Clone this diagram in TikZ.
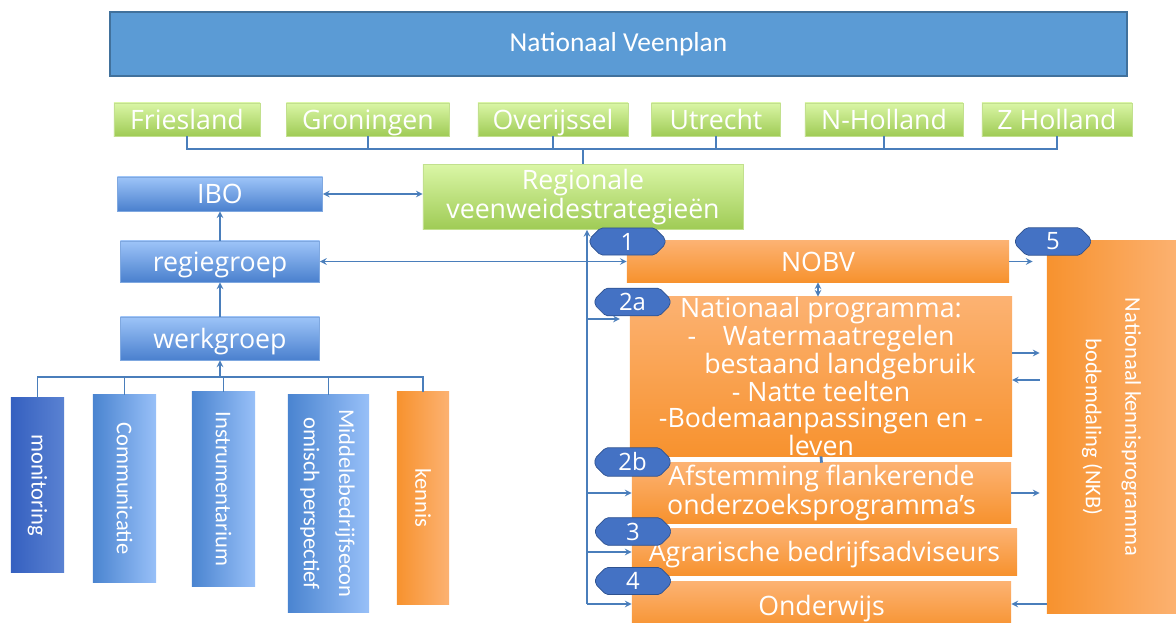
\documentclass[tikz,border=0pt]{standalone}
\usepackage{fontspec}
\setmainfont{Open Sans}
\newfontfamily\narrowfont{Carlito}
\usepackage{graphicx}
\usetikzlibrary{shapes.misc}

\definecolor{titleblue}{HTML}{5B9BD5}
\definecolor{titleedge}{HTML}{41719C}
\definecolor{greentop}{HTML}{DAF6A6}
\definecolor{greenbot}{HTML}{9FCB55}
\definecolor{greenedge}{HTML}{C2E08E}
\definecolor{bluetop}{HTML}{9DC4F8}
\definecolor{bluebot}{HTML}{4A80CE}
\definecolor{blueedge}{HTML}{7FA8E0}
\definecolor{orangelight}{HTML}{FCB272}
\definecolor{orangedark}{HTML}{F7922E}
\definecolor{linkblue}{HTML}{4A7EBB}
\definecolor{badgeblue}{HTML}{4472C4}
\definecolor{badgeedge}{HTML}{2F528F}
\definecolor{monleft}{HTML}{3560C0}
\definecolor{monright}{HTML}{5A82D2}
\definecolor{sideleft}{HTML}{4A84D0}
\definecolor{sideright}{HTML}{98C0F8}

\begin{document}
\begin{tikzpicture}[x=0.025cm, y=-0.025cm, >=stealth,
  boxtext/.style={text=white, font=\fontsize{19}{18.6}\selectfont, inner sep=0pt, align=center},
  oneline/.style={text height=13.8pt, text depth=0pt},
  province/.style={boxtext, top color=greentop, bottom color=greenbot, draw=greenedge, line width=0.5pt, minimum height=0.83cm},
  bluebox/.style={boxtext, oneline, top color=bluetop, bottom color=bluebot, draw=blueedge, line width=0.5pt},
  orangebox/.style={boxtext, top color=orangelight, bottom color=orangedark},
  sidebox/.style={text=white, font=\narrowfont\fontsize{16}{25}\selectfont, inner sep=0pt},
  badge/.style={shape=chamfered rectangle, chamfered rectangle xsep=4pt, rounded corners=1.5pt, fill=badgeblue, draw=badgeedge, line width=0.5pt, text=white, font=\fontsize{17}{17}\selectfont, minimum width=1.88cm, minimum height=0.5cm, inner sep=0pt},
  link/.style={draw=linkblue, line width=1.1pt}]
\useasboundingbox (0,0) rectangle (1176,623);

\node[draw=titleedge, line width=1.2pt, fill=titleblue, text=white, font=\narrowfont\fontsize{19.5}{20}\selectfont, minimum width=25.43cm, minimum height=1.6cm] (veenplan) at (618.5,44) {Nationaal Veenplan};

% provincies
\node[province, oneline, minimum width=3.65cm] (friesland) at (187,119.5) {Friesland};
\node[province, oneline, minimum width=4.08cm] (groningen) at (368,119.5) {Groningen};
\node[province, oneline, minimum width=3.75cm] (overijssel) at (553,119.5) {Overijssel};
\node[province, oneline, minimum width=3.23cm] (utrecht) at (716,119.5) {Utrecht};
\node[province, oneline, minimum width=3.95cm] (nholland) at (884,119.5) {N-Holland};
\node[province, oneline, minimum width=3.75cm] (zholland) at (1057,119.5) {Z Holland};
\node[province, minimum width=8cm, minimum height=1.63cm] (regionale) at (583,197) {Regionale\\veenweidestrategieën};

% linkerkant
\node[bluebox, minimum width=5.13cm, minimum height=0.85cm] (ibo) at (220,194) {IBO};
\node[bluebox, minimum width=4.98cm, minimum height=1.03cm] (regiegroep) at (220,261.5) {regiegroep};
\node[bluebox, minimum width=4.98cm, minimum height=1.08cm] (werkgroep) at (220,338.5) {werkgroep};

\node[sidebox, left color=monleft, right color=monright, minimum width=1.33cm, minimum height=4.35cm] (monitoring) at (37.5,485) {\rotatebox{-90}{monitoring}};
\node[sidebox, left color=sideleft, right color=sideright, minimum width=1.58cm, minimum height=4.68cm] (communicatie) at (124.5,488.5) {\rotatebox{-90}{Communicatie}};
\node[sidebox, left color=sideleft, right color=sideright, minimum width=1.58cm, minimum height=4.85cm] (instrumentarium) at (223.5,489) {\rotatebox{-90}{Instrumentarium}};
\node[sidebox, left color=sideleft, right color=sideright, minimum width=2.03cm, minimum height=5.43cm] (middel) at (328.5,503.5) {\rotatebox{-90}{\begin{tabular}{@{}c@{}}Middelebedrijfsecon\\omisch perspectief\end{tabular}}};
\node[sidebox, left color=orangedark, right color=orangelight, minimum width=1.3cm, minimum height=5.3cm] (kennis) at (423,498) {\rotatebox{-90}{kennis}};

% rechterkant
\node[orangebox, oneline, minimum width=9.55cm, minimum height=1.03cm] (nobv) at (818,261.5) {NOBV};
\node[orangebox, minimum width=9.55cm, minimum height=3.93cm] (natprog) at (821,376.5) {Nationaal programma:\\-\hspace{1em}Watermaatregelen\\\hspace*{27pt}bestaand landgebruik\\- Natte teelten\\-Bodemaanpassingen en -\\leven};
\node[orangebox, font=\fontsize{19}{17.7}\selectfont, minimum width=9.48cm, minimum height=1.5cm] (afstemming) at (821.5,493) {Afstemming flankerende\\onderzoeksprogramma’s};
\node[orangebox, oneline, minimum width=9.63cm, minimum height=1.15cm] (agrarisch) at (824.5,552) {Agrarische bedrijfsadviseurs};
\node[orangebox, oneline, minimum width=9.48cm, minimum height=1.2cm] (onderwijs) at (821.5,606) {Onderwijs};
\node[sidebox, left color=orangedark, right color=orangelight, minimum width=3.33cm, minimum height=9.3cm] (nkb) at (1113.5,427) {\rotatebox{-90}{\fontsize{16}{28}\selectfont\begin{tabular}{@{}c@{}}Nationaal kennisprogramma\\bodemdaling (NKB)\end{tabular}}};

% verbindingen
\coordinate (provbar) at (589,149);
\draw[link] (friesland.south) -- (friesland.south |- provbar) -- (zholland.south |- provbar) -- (zholland.south);
\foreach \p in {groningen, overijssel, utrecht, nholland}
  \draw[link] (\p.south) -- (\p.south |- provbar);
\draw[link] (regionale.north |- provbar) -- (regionale.north);

\draw[link,<->] (ibo.east) -- (ibo.east -| regionale.west);
\draw[link,->] (regiegroep.north) -- (ibo.south);
\draw[link,->] (werkgroep.north) -- (regiegroep.south);
\draw[link,<->] (regiegroep.east) -- (regiegroep.east -| nobv.west);

\coordinate (teambar) at (220,377);
\draw[link] (monitoring.north) -- (monitoring.north |- teambar) -- (kennis.north |- teambar) -- (kennis.north);
\foreach \t in {communicatie, instrumentarium, middel}
  \draw[link] (\t.north) -- (\t.north |- teambar);
\draw[link,->] (teambar) -- (werkgroep.south);

\coordinate (spine) at (587,604);
\coordinate (spine2a) at (587,319);
\draw[link,->] (spine) -- (spine |- regionale.south);
\draw[link,->,shorten >=7pt] (spine2a) -- (spine2a -| natprog.west);
\draw[link,->] (spine |- afstemming.west) -- (afstemming.west);
\draw[link,->] (spine |- agrarisch.west) -- (agrarisch.west);
\draw[link,->] (spine) -- (spine -| onderwijs.west);

\draw[link,<->] (nobv.south) -- (nobv.south |- natprog.north);
\draw[link, line width=2pt] (natprog.south) -- (afstemming.north);

\coordinate (npout) at (1012,353);
\coordinate (npin) at (1012,380);
\draw[link,->,shorten >=10pt] (nobv.east) -- (nobv.east -| nkb.west);
\draw[link,->,shorten >=5pt] (npout) -- (npout -| nkb.west);
\draw[link,->,shorten <=5pt] (npin -| nkb.west) -- (npin);
\draw[link,->,shorten >=5pt] (afstemming.east) -- (afstemming.east -| nkb.west);
\draw[link,->] (spine -| nkb.west) -- (spine -| onderwijs.east);

% nummers
\node[badge] (b1) at (627.5,241.5) {1};
\node[badge] (b5) at (1053,241.5) {5};
\node[badge] (b2a) at (632.5,302) {2a};
\node[badge] (b2b) at (632.5,462) {2b};
\node[badge] (b3) at (633,531.5) {3};
\node[badge] (b4) at (633,581) {4};
\end{tikzpicture}
\end{document}
